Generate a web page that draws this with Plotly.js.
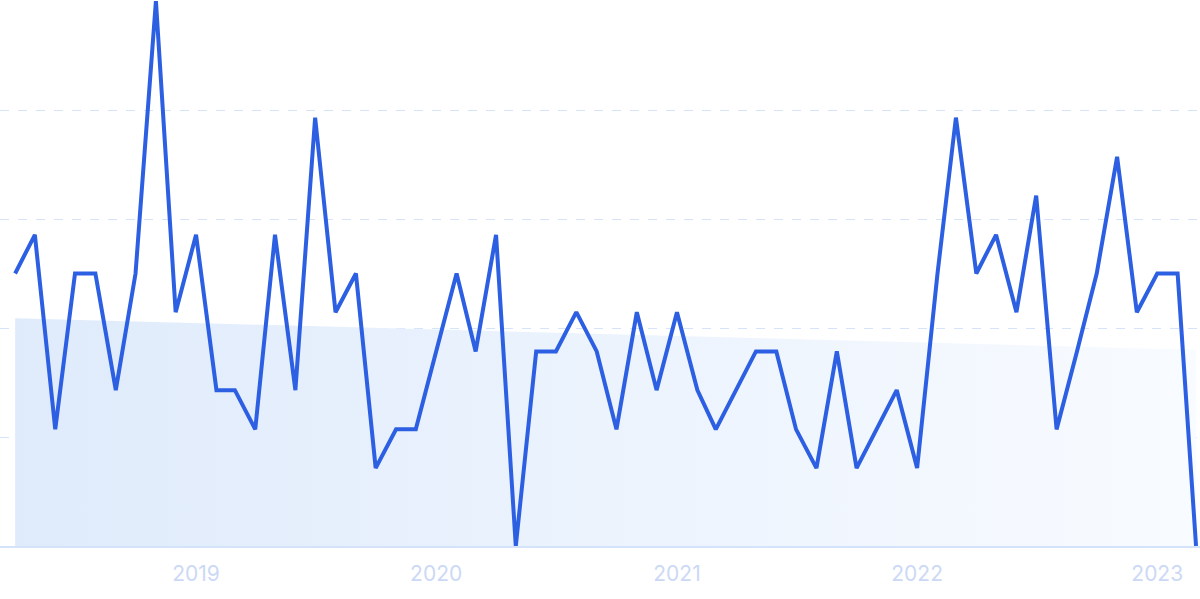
<!DOCTYPE html>
<html>
<head>
<meta charset="utf-8">
<script src="https://cdn.plot.ly/plotly-3.0.1.min.js"></script>
<style>
  html, body { margin: 0; padding: 0; background: #ffffff; }
  #chart { width: 1200px; height: 599px; }
</style>
</head>
<body>
<div id="chart"></div>
<script>
// Monthly dates, April 2018 – March 2023
const months = [
  "2018-04-01","2018-05-01","2018-06-01","2018-07-01","2018-08-01","2018-09-01","2018-10-01","2018-11-01","2018-12-01",
  "2019-01-01","2019-02-01","2019-03-01","2019-04-01","2019-05-01","2019-06-01","2019-07-01","2019-08-01","2019-09-01","2019-10-01","2019-11-01","2019-12-01",
  "2020-01-01","2020-02-01","2020-03-01","2020-04-01","2020-05-01","2020-06-01","2020-07-01","2020-08-01","2020-09-01","2020-10-01","2020-11-01","2020-12-01",
  "2021-01-01","2021-02-01","2021-03-01","2021-04-01","2021-05-01","2021-06-01","2021-07-01","2021-08-01","2021-09-01","2021-10-01","2021-11-01","2021-12-01",
  "2022-01-01","2022-02-01","2022-03-01","2022-04-01","2022-05-01","2022-06-01","2022-07-01","2022-08-01","2022-09-01","2022-10-01","2022-11-01","2022-12-01",
  "2023-01-01","2023-02-01","2023-03-01"
];

// Normalised search interest (0–100)
const interest = [
  50, 57.1, 21.4, 50, 50, 28.6, 50, 100, 42.9,
  57.1, 28.6, 28.6, 21.4, 57.1, 28.6, 78.6, 42.9, 50, 14.3, 21.4, 21.4,
  35.7, 50, 35.7, 57.1, 0, 35.7, 35.7, 42.9, 35.7, 21.4, 42.9, 28.6,
  42.9, 28.6, 21.4, 28.6, 35.7, 35.7, 21.4, 14.3, 35.7, 14.3, 21.4, 28.6,
  14.3, 50, 78.6, 50, 57.1, 42.9, 64.3, 21.4, 35.7, 50, 71.4, 42.9,
  50, 50, 0
];

// Trend line end points (start and end of the series)
const trendDates = ["2018-04-01", "2023-03-01"];
const trendValues = [41.8, 36.0];

const tickDates = ["2019-01-01", "2020-01-01", "2021-01-01", "2022-01-01", "2023-01-01"];
const tickLabels = ["2019", "2020", "2021", "2022", "2023"];

const traces = [
  {
    x: trendDates,
    y: trendValues,
    type: "scatter",
    mode: "lines",
    line: { width: 0, color: "rgba(0,0,0,0)" },
    fill: "tozeroy",
    fillcolor: "#e3eefc",
    fillgradient: {
      type: "horizontal",
      colorscale: [[0, "#dfebfb"], [1, "#f8fbff"]]
    },
    hoverinfo: "skip",
    showlegend: false
  },
  {
    x: months,
    y: interest,
    type: "scatter",
    mode: "lines",
    line: { color: "#2d5fe3", width: 4 },
    showlegend: false
  }
];

const layout = {
  width: 1200,
  height: 599,
  margin: { l: 0, r: 0, t: 1, b: 53 },
  paper_bgcolor: "#ffffff",
  plot_bgcolor: "#ffffff",
  font: { family: "Inter, 'Open Sans', sans-serif", color: "#ccd9f5", size: 20 },
  xaxis: {
    type: "date",
    range: ["2018-03-09", "2023-03-07"],
    tickvals: tickDates,
    ticktext: tickLabels,
    showgrid: false,
    zeroline: false,
    showline: true,
    linecolor: "#d5e3fa",
    linewidth: 2,
    ticks: "",
    ticklabelstandoff: 8,
    tickfont: { size: 21, color: "#ccd9f5" },
    fixedrange: true
  },
  yaxis: {
    range: [0, 100],
    dtick: 20,
    showticklabels: false,
    showgrid: true,
    gridcolor: "#d6e4fb",
    griddash: "dash",
    gridwidth: 1,
    zeroline: false,
    showline: false,
    ticks: "",
    fixedrange: true
  },
  showlegend: false
};

Plotly.newPlot("chart", traces, layout, { displayModeBar: false, staticPlot: true });
</script>
</body>
</html>
